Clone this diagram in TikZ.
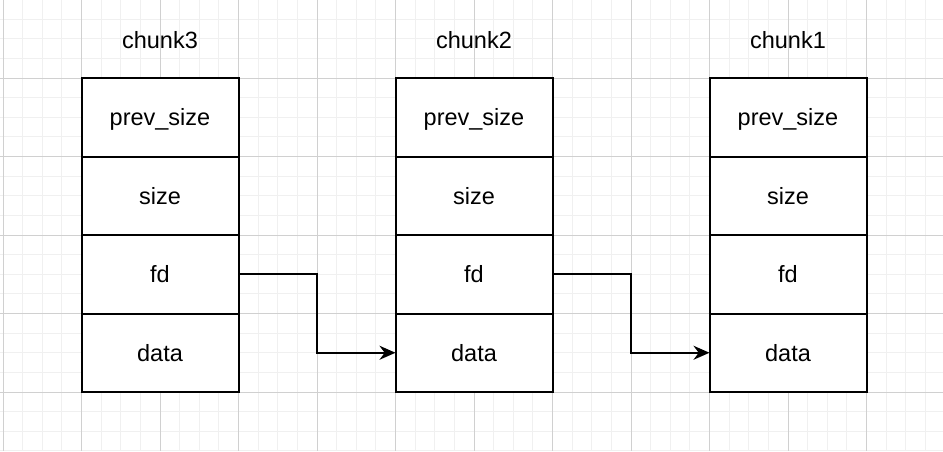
\documentclass[tikz,border=0pt]{standalone}
\usepackage{fontspec}
\setmainfont{Liberation Sans}
\usetikzlibrary{arrows.meta}
\definecolor{minorgrid}{HTML}{F0F0F0}
\definecolor{majorgrid}{HTML}{D0D0D0}
\tikzset{
  cell/.style={draw=black, line width=2pt, fill=white, minimum width=157pt, minimum height=78.5pt, inner sep=0pt, outer sep=0pt, text height=16.8pt, text depth=0pt, font=\fontsize{23.5}{28}\selectfont, anchor=north west},
  title/.style={font=\fontsize{23.5}{28}\selectfont, inner sep=0pt},
  link/.style={draw=black, line width=2pt, -{Stealth[length=16pt, width=14pt]}}
}
\begin{document}
\begin{tikzpicture}[x=1pt,y=-1pt]
\useasboundingbox (0,0) rectangle (943,451);
\fill[white] (0,0) rectangle (943,451);
% minor grid
\foreach \i in {0,...,48} {
  \draw[minorgrid, line width=1pt] ({3+19.625*\i},0) -- ({3+19.625*\i},451);
}
\foreach \j in {0,...,23} {
  \draw[minorgrid, line width=1pt] (0,{-0.5+19.625*\j}) -- (943,{-0.5+19.625*\j});
}
% major grid
\foreach \i in {0,...,12} {
  \draw[majorgrid, line width=1pt] ({3+78.5*\i},0) -- ({3+78.5*\i},451);
}
\foreach \j in {0,...,5} {
  \draw[majorgrid, line width=1pt] (0,{-0.5+78.5*\j}) -- (943,{-0.5+78.5*\j});
}
% chunk3
\node[title] (t3) at (160,40) {chunk3};
\node[cell] (c3p) at (81.5,78) {prev\_size};
\node[cell] (c3s) at (81.5,156.5) {size};
\node[cell] (c3f) at (81.5,235) {fd};
\node[cell] (c3d) at (81.5,313.5) {data};
% chunk2
\node[title] (t2) at (474,40) {chunk2};
\node[cell] (c2p) at (395.5,78) {prev\_size};
\node[cell] (c2s) at (395.5,156.5) {size};
\node[cell] (c2f) at (395.5,235) {fd};
\node[cell] (c2d) at (395.5,313.5) {data};
% chunk1
\node[title] (t1) at (788,40) {chunk1};
\node[cell] (c1p) at (709.5,78) {prev\_size};
\node[cell] (c1s) at (709.5,156.5) {size};
\node[cell] (c1f) at (709.5,235) {fd};
\node[cell] (c1d) at (709.5,313.5) {data};
% links
\draw[link] (c3f.east) -- (317,274.25) -- (317,352.75) -- (c2d.west);
\draw[link] (c2f.east) -- (631,274.25) -- (631,352.75) -- (c1d.west);
\end{tikzpicture}
\end{document}
